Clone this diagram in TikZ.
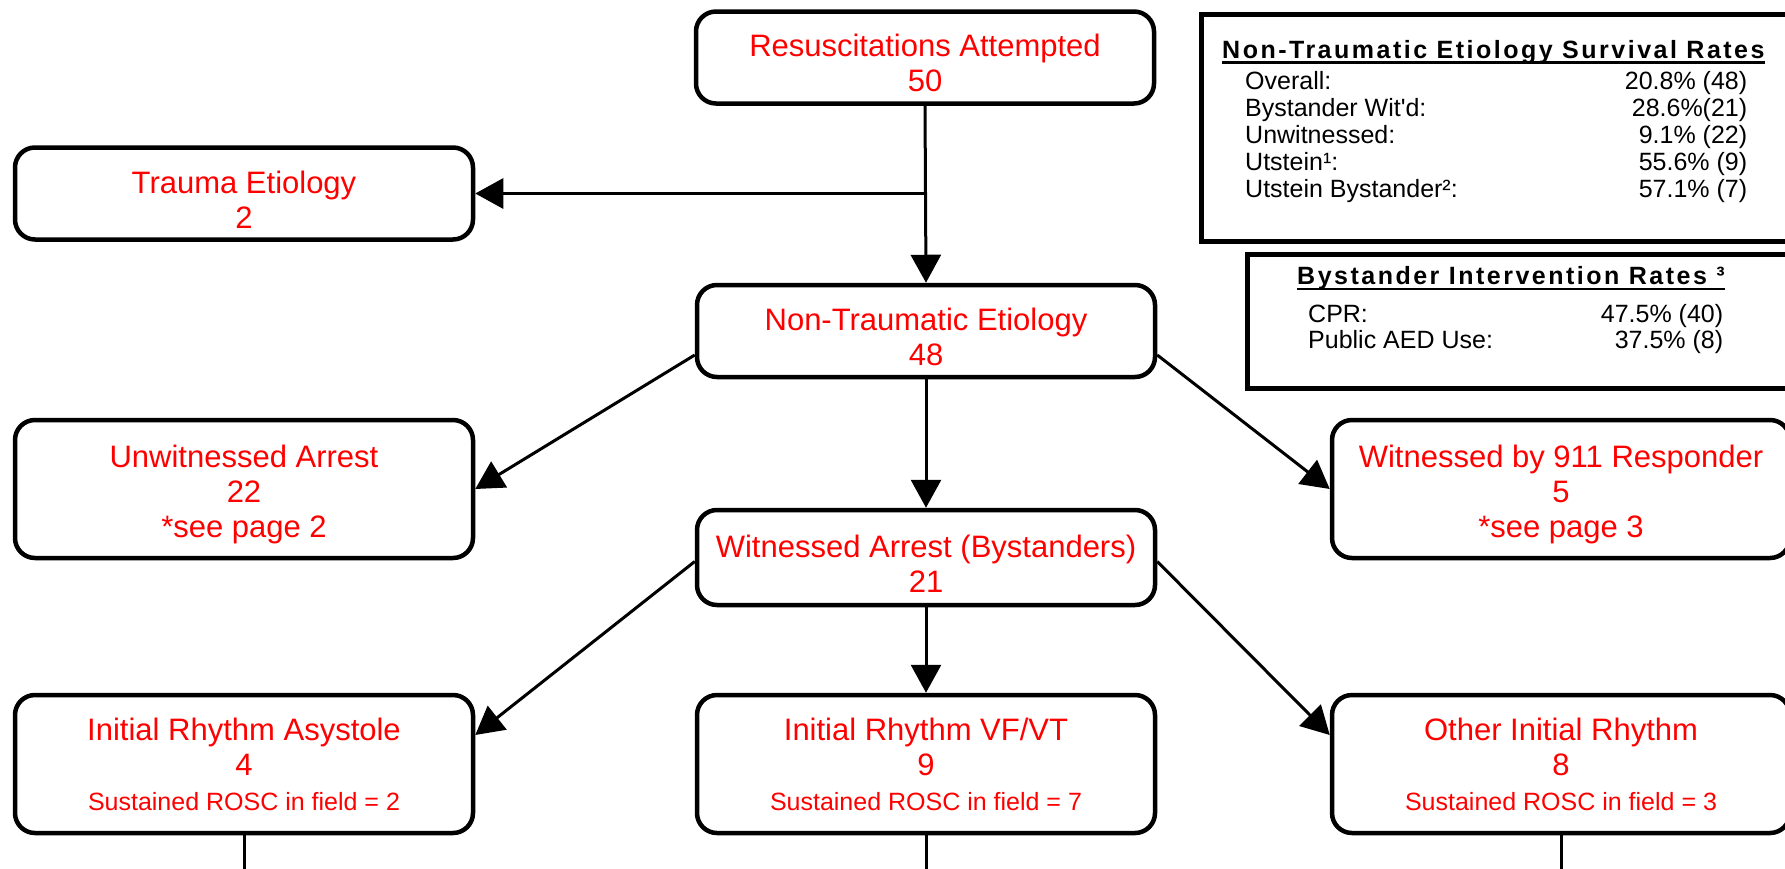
\documentclass[tikz,border=0pt]{standalone}
\usepackage{fontspec}
\setmainfont{Liberation Sans}[Ligatures=TeXOff]
\newfontfamily\hdrfont[LetterSpace=10,Ligatures=TeXOff]{Liberation Sans}
\usetikzlibrary{arrows.meta}
\tikzset{
  flowbox/.style={draw, line width=4.5pt, rounded corners=20pt, fill=white, text=red,
    align=center, inner sep=0pt, minimum width=458pt, font=\fontsize{31}{35}\selectfont},
  twoline/.style={flowbox, minimum height=92pt},
  threeline/.style={flowbox, minimum height=138pt},
  conn/.style={line width=3pt, -{Triangle[length=28pt,width=30pt]}},
  plainline/.style={line width=3pt},
  panel/.style={draw, line width=5pt, fill=white, inner sep=0pt, anchor=north west},
  hdr/.style={inner sep=0pt, anchor=base west, font=\hdrfont\bfseries\fontsize{25}{29}\selectfont},
  rowtxt/.style={inner sep=0pt, anchor=base west},
  uline/.style={line width=2.5pt}
}
\newcommand{\smalltxt}[1]{{\fontsize{25}{35}\selectfont #1}}
\newcommand{\tstrut}{\rule{0pt}{34pt}}
\begin{document}
\begin{tikzpicture}[x=1pt,y=-1pt]
\useasboundingbox (0,0) rectangle (1785,868);
\fill[white] (0,0) rectangle (1785,868);

% info panels
\node[panel, minimum width=610pt, minimum height=227pt] (surv) at (1199,12) {};
\node[hdr] (survhdr) at (1222,58) {Non-Traumatic Etiology Survival Rates};
\draw[uline] ([yshift=-4.5pt]survhdr.base west) -- ([yshift=-4.5pt]survhdr.base east);
\node[rowtxt, font=\fontsize{25}{27}\selectfont] (survrows) at (1245,89) {%
\begin{tabular*}{502pt}[t]{@{}l@{\extracolsep{\fill}}r@{}}
Overall: & 20.8\% (48)\\
Bystander Wit'd: & 28.6\%(21)\\
Unwitnessed: & 9.1\% (22)\\
Utstein¹: & 55.6\% (9)\\
Utstein Bystander²: & 57.1\% (7)
\end{tabular*}};

\node[panel, minimum width=560pt, minimum height=134pt] (byst) at (1245,252) {};
\node[hdr] (bysthdr) at (1297,284) {Bystander Intervention Rates ³};
\draw[uline] ([yshift=-5pt]bysthdr.base west) -- ([yshift=-5pt]bysthdr.base east);
\node[rowtxt, font=\fontsize{25}{26}\selectfont] (bystrows) at (1308,322) {%
\begin{tabular*}{415pt}[t]{@{}l@{\extracolsep{\fill}}r@{}}
CPR: & 47.5\% (40)\\
Public AED Use: & 37.5\% (8)
\end{tabular*}};

% flow boxes
\node[twoline] (resus) at (925,57.5) {\tstrut Resuscitations Attempted\\50};
\node[twoline] (trauma) at (244,193.5) {\tstrut Trauma Etiology\\2};
\node[twoline] (nt) at (926,331) {\tstrut Non-Traumatic Etiology\\48};
\node[threeline] (unwit) at (244,489) {\tstrut Unwitnessed Arrest\\22\\*see page 2};
\node[threeline] (w911) at (1561,489) {\tstrut Witnessed by 911 Responder\\5\\*see page 3};
\node[twoline, minimum height=95pt] (wa) at (926,557.5) {\tstrut Witnessed Arrest (Bystanders)\\21};
\node[threeline] (asys) at (244,764) {Initial Rhythm Asystole\\4\\\smalltxt{Sustained ROSC in field = 2}};
\node[threeline] (vf) at (926,764) {Initial Rhythm VF/VT\\9\\\smalltxt{Sustained ROSC in field = 7}};
\node[threeline] (other) at (1561,764) {Other Initial Rhythm\\8\\\smalltxt{Sustained ROSC in field = 3}};

% connectors
\draw[conn] (resus.south) -- (nt.north);
\draw[conn] (resus.south |- trauma.east) -- (trauma.east);
\draw[conn] ([yshift=-24pt]nt.west) -- (unwit.east);
\draw[conn] ([yshift=-24pt]nt.east) -- (w911.west);
\draw[conn] (nt.south) -- (wa.north);
\draw[conn] ([yshift=-4pt]wa.west) -- ([yshift=29pt]asys.east);
\draw[conn] ([yshift=-4pt]wa.east) -- ([yshift=29pt]other.west);
\draw[conn] (wa.south) -- (vf.north);

\coordinate (asysout) at ([yshift=-45pt]asys.south);
\coordinate (vfout) at ([yshift=-45pt]vf.south);
\coordinate (otherout) at ([yshift=-45pt]other.south);
\draw[plainline] (asys.south) -- (asysout);
\draw[plainline] (vf.south) -- (vfout);
\draw[plainline] (other.south) -- (otherout);
\end{tikzpicture}
\end{document}
